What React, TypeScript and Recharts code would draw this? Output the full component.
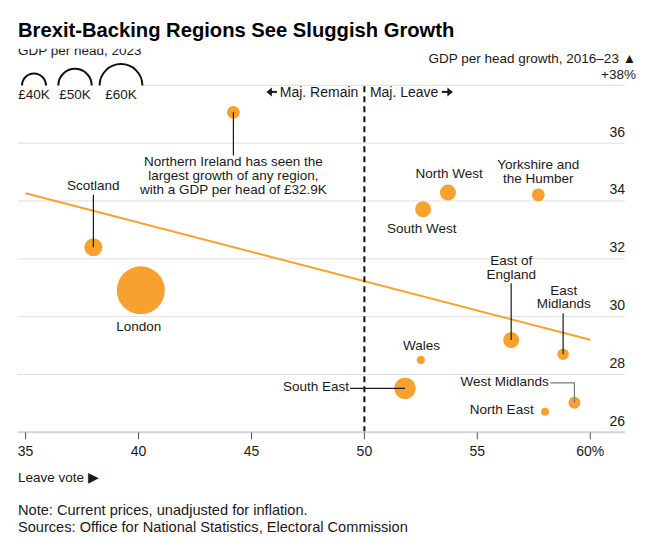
import { CartesianGrid, ReferenceLine, Scatter, ScatterChart, XAxis, YAxis } from "recharts";

// values
const regions = [
  "Northern Ireland",
  "Scotland",
  "London",
  "North West",
  "Yorkshire and the Humber",
  "South West",
  "East of England",
  "East Midlands",
  "Wales",
  "West Midlands",
  "North East",
  "South East",
];
const leaveVote = [44.2, 38.0, 40.1, 53.7, 57.7, 52.6, 56.5, 58.8, 52.5, 59.3, 58.0, 51.8];
const gdpGrowth = [37.07, 32.4, 30.91, 34.29, 34.21, 33.71, 29.19, 28.7, 28.5, 27.02, 26.71, 27.52];
const gdpPerHead = [27.9, 33.6, 65.5, 31.5, 28.1, 31.5, 31.5, 26.6, 23, 27.2, 23, 37.2];

const xTicks = [35, 40, 45, 50, 55, 60];
const yTicks = [26, 28, 30, 32, 34, 36, 38];
const legendSizes = [40, 50, 60];
const trendStart = { x: 35, y: 34.27 };
const trendEnd = { x: 60, y: 29.2 };

const data = regions.map((name, i) => ({
  name,
  vote: leaveVote[i],
  growth: gdpGrowth[i],
  gdp: gdpPerHead[i],
}));

const ORANGE = "#f8a12e";
const INK = "#1a1a1a";
const FONT = "'Liberation Sans', Arial, sans-serif";
const LINE_H = 13.6;

// bubble radius from GDP per head (£K), matched to the size legend
const radius = (gdp: number) => 12 + 0.47 * (gdp - 40);

type Note = {
  lines: string[];
  dx: number;
  dy: number;
  anchor: "start" | "middle" | "end";
  leader?: [number, number][];
  leaderColor?: string;
};

const notes: Record<string, Note> = {
  "Northern Ireland": {
    lines: [
      "Northern Ireland has seen the",
      "largest growth of any region,",
      "with a GDP per head of £32.9K",
    ],
    dx: 0,
    dy: 49.4,
    anchor: "middle",
    leader: [[0, 0], [0, 43.4]],
  },
  Scotland: { lines: ["Scotland"], dx: 0, dy: -62, anchor: "middle", leader: [[0, -52.4], [0, 0]] },
  London: { lines: ["London"], dx: -2, dy: 35.7, anchor: "middle" },
  "North West": { lines: ["North West"], dx: 1.3, dy: -19.7, anchor: "middle" },
  "Yorkshire and the Humber": { lines: ["Yorkshire and", "the Humber"], dx: 0, dy: -30.6, anchor: "middle" },
  "South West": { lines: ["South West"], dx: -1.4, dy: 18.6, anchor: "middle" },
  "East of England": { lines: ["East of", "England"], dx: 0, dy: -80, anchor: "middle", leader: [[0, -56.7], [0, 0]] },
  "East Midlands": { lines: ["East", "Midlands"], dx: 0.6, dy: -64.3, anchor: "middle", leader: [[0, -41], [0, 0]] },
  Wales: { lines: ["Wales"], dx: 0.6, dy: -15, anchor: "middle" },
  "West Midlands": {
    lines: ["West Midlands"],
    dx: -25.7,
    dy: -22,
    anchor: "end",
    leader: [[-24, -20], [0, -20], [0, 0]],
    leaderColor: "#777",
  },
  "North East": { lines: ["North East"], dx: -11.4, dy: -2.4, anchor: "end" },
  "South East": { lines: ["South East"], dx: -56, dy: -2.6, anchor: "end", leader: [[-55, 0], [0, 0]] },
};

const Bubble = (props: any) => {
  const { cx, cy, payload } = props;
  const note = notes[payload.name];
  return (
    <g>
      <circle cx={cx} cy={cy} r={radius(payload.gdp)} fill={ORANGE} />
      {note && note.leader && (
        <polyline
          points={note.leader.map(([a, b]) => `${cx + a},${cy + b}`).join(" ")}
          fill="none"
          stroke={note.leaderColor || INK}
          strokeWidth={1.2}
        />
      )}
      {note &&
        note.lines.map((line, i) => (
          <text
            key={i}
            x={cx + note.dx}
            y={cy + note.dy + i * LINE_H}
            dy="0.36em"
            textAnchor={note.anchor}
            fontSize={13.5}
            fill={INK}
            fontFamily={FONT}
          >
            {line}
          </text>
        ))}
    </g>
  );
};

const renderGrowthTick = (props: any) => {
  const { x, y, payload } = props;
  if (payload.value === 38) return <g />;
  return (
    <text x={x} y={y - 6.5} textAnchor="end" fontSize={14} fill={INK} fontFamily={FONT}>
      {payload.value}
    </text>
  );
};

const Arrow = ({ x1, x2, y }: { x1: number; x2: number; y: number }) => {
  const dir = x2 > x1 ? 1 : -1;
  return (
    <g>
      <line x1={x1} y1={y} x2={x2 - dir * 4} y2={y} stroke={INK} strokeWidth={2} />
      <path d={`M ${x2} ${y} L ${x2 - dir * 5.5} ${y - 4.5} L ${x2 - dir * 5.5} ${y + 4.5} Z`} fill={INK} />
    </g>
  );
};

const DividerLabel = (props: any) => {
  const vb = props.viewBox || {};
  const y = (vb.y ?? 85) + 11.2;
  return (
    <g fontSize={14} fill={INK} fontFamily={FONT}>
      <Arrow x1={vb.x - 87.5} x2={vb.x - 98} y={y - 4.6} />
      <text x={vb.x - 6} y={y} textAnchor="end">
        Maj. Remain
      </text>
      <text x={vb.x + 5.5} y={y} textAnchor="start">
        Maj. Leave
      </text>
      <Arrow x1={vb.x + 77.5} x2={vb.x + 88.5} y={y - 4.6} />
    </g>
  );
};

const legendX = [34, 75, 121];

export default function App() {
  return (
    <div style={{ position: "absolute", left: 0, top: 0, width: 656, height: 546, background: "#fff" }}>
      <ScatterChart
        width={656}
        height={546}
        margin={{ top: 85.3, right: 31, bottom: 83.7, left: 17.5 }}
        style={{ fontFamily: FONT }}
      >
        <CartesianGrid vertical={false} stroke="#dedede" />
        <XAxis
          type="number"
          dataKey="vote"
          domain={[34.64, 61.54]}
          ticks={xTicks}
          tickFormatter={(v: number) => (v === 60 ? "60%" : String(v))}
          height={30}
          axisLine={{ stroke: "#d6d6d6", strokeWidth: 2 }}
          tickLine={{ stroke: "#555" }}
          tickSize={7}
          tickMargin={7}
          tick={{ fontSize: 14, fill: INK, fontFamily: FONT }}
        />
        <YAxis
          type="number"
          dataKey="growth"
          domain={[26, 38]}
          ticks={yTicks}
          orientation="right"
          width={1}
          mirror
          axisLine={false}
          tickLine={false}
          tickSize={0}
          tickMargin={0}
          interval={0}
          tick={renderGrowthTick}
        />
        <ReferenceLine
          segment={[trendStart, trendEnd]}
          stroke={ORANGE}
          strokeWidth={2}
          ifOverflow="visible"
        />
        <ReferenceLine
          x={50}
          stroke="#111"
          strokeWidth={2}
          strokeDasharray="6 4"
          label={<DividerLabel />}
        />
        <Scatter data={data} shape={<Bubble />} isAnimationActive={false} />
      </ScatterChart>

      <svg
        width={656}
        height={546}
        style={{ position: "absolute", left: 0, top: 0, pointerEvents: "none" }}
        fontFamily={FONT}
      >
        <defs>
          <clipPath id="subClip">
            <rect x={0} y={48.7} width={300} height={12} />
          </clipPath>
        </defs>
        <text x={18} y={36.7} fontSize={20.2} fontWeight="bold" fill="#000">
          Brexit-Backing Regions See Sluggish Growth
        </text>
        <text x={18} y={55} fontSize={13.5} fill={INK} clipPath="url(#subClip)">
          GDP per head, 2023
        </text>
        <text x={636} y={63.2} fontSize={13.5} fill={INK} textAnchor="end">
          GDP per head growth, 2016–23 ▲
        </text>
        <text x={636} y={78.6} fontSize={13.5} fill={INK} textAnchor="end">
          +38%
        </text>

        <rect x={0} y={60} width={143} height={44} fill="#fff" />
        {legendSizes.map((g, i) => {
          const r = radius(g);
          const cx = legendX[i];
          return (
            <g key={g}>
              <path
                d={`M ${cx - r} 85.5 A ${r} ${r} 0 0 1 ${cx + r} 85.5`}
                fill="none"
                stroke="#111"
                strokeWidth={2}
              />
              <text x={cx} y={99.2} fontSize={13.5} fill={INK} textAnchor="middle">
                £{g}K
              </text>
            </g>
          );
        })}

        <text x={18} y={481.9} fontSize={13.5} fill={INK}>
          Leave vote ▶
        </text>
        <text x={18} y={515} fontSize={14.6} fill={INK}>
          Note: Current prices, unadjusted for inflation.
        </text>
        <text x={18} y={532} fontSize={14.6} fill={INK}>
          Sources: Office for National Statistics, Electoral Commission
        </text>
      </svg>
    </div>
  );
}
